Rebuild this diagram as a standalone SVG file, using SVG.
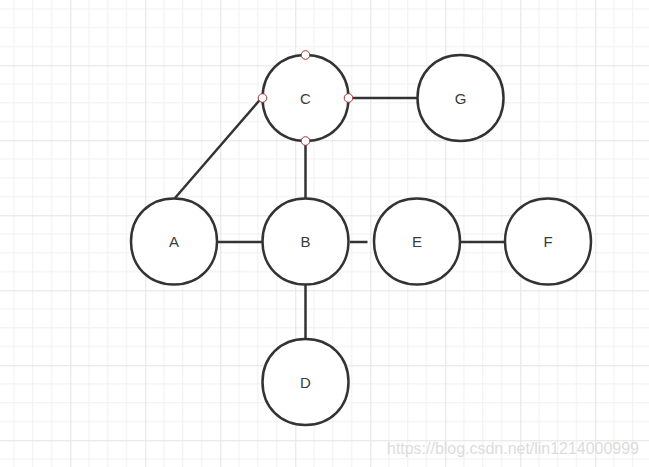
<svg xmlns="http://www.w3.org/2000/svg" xmlns:xlink="http://www.w3.org/1999/xlink" width="649" height="467" viewBox="0 0 649 467">
<defs>
<pattern id="grid" patternUnits="userSpaceOnUse" x="-4.7" y="-9.7" width="75" height="75">
<path d="M18.75 0V75M37.5 0V75M56.25 0V75M0 18.75H75M0 37.5H75M0 56.25H75" stroke="#f0f0f0" stroke-width="1" fill="none"/>
<path d="M0.5 0V75M0 0.5H75" stroke="#e3e3e3" stroke-width="1" fill="none"/>
</pattern>
<path id="blob" d="M43 0C43 25 25 43 0 43C-25 43 -43 25 -43 0C-43 -25 -25 -43 0 -43C25 -43 43 -25 43 0Z"/>
<style>
.node{fill:#fff;stroke:#333;stroke-width:2.5}
.lbl{font-family:"Liberation Sans",Arial,sans-serif;font-size:15px;fill:#3a3a3a;text-anchor:middle;dominant-baseline:central}
.edge{stroke:#333;stroke-width:2.5;fill:none}
.handle{fill:#fff;stroke:#a33;stroke-width:1}
</style>
</defs>
<rect width="649" height="467" fill="#fff"/>
<rect width="649" height="467" fill="url(#grid)"/>
<g id="connectors">
<line class="edge" x1="261.5" y1="98" x2="175" y2="198"/>
<line class="edge" x1="349" y1="98" x2="417" y2="98"/>
<line class="edge" x1="305.5" y1="142" x2="305.5" y2="198"/>
<line class="edge" x1="218" y1="242" x2="262" y2="242"/>
<line class="edge" x1="350" y1="242" x2="367.5" y2="242"/>
<line class="edge" x1="460" y1="242" x2="505" y2="242"/>
<line class="edge" x1="305.5" y1="285" x2="305.5" y2="339"/>
</g>
<g id="node-C">
<use class="node" xlink:href="#blob" href="#blob" x="305.5" y="98"/>
<text class="lbl" x="305.5" y="98">C</text>
<circle class="handle" cx="305.5" cy="55" r="4.3"/>
<circle class="handle" cx="262.5" cy="98" r="4.3"/>
<circle class="handle" cx="348.5" cy="98" r="4.3"/>
<circle class="handle" cx="305.5" cy="141" r="4.3"/>
</g>
<g id="node-G">
<use class="node" xlink:href="#blob" href="#blob" x="460.5" y="98"/>
<text class="lbl" x="460.5" y="98">G</text>
</g>
<g id="node-A">
<use class="node" xlink:href="#blob" href="#blob" x="174" y="241.5"/>
<text class="lbl" x="174" y="241.5">A</text>
</g>
<g id="node-B">
<use class="node" xlink:href="#blob" href="#blob" x="305.5" y="241.5"/>
<text class="lbl" x="305.5" y="241.5">B</text>
</g>
<g id="node-E">
<use class="node" xlink:href="#blob" href="#blob" x="417" y="241.5"/>
<text class="lbl" x="417" y="241.5">E</text>
</g>
<g id="node-F">
<use class="node" xlink:href="#blob" href="#blob" x="548" y="241.5"/>
<text class="lbl" x="548" y="241.5">F</text>
</g>
<g id="node-D">
<use class="node" xlink:href="#blob" href="#blob" x="305.5" y="382"/>
<text class="lbl" x="305.5" y="382">D</text>
</g>
<text x="387" y="454" font-family="'Liberation Sans',Arial,sans-serif" font-size="16" fill="#dcdcdc" textLength="252" lengthAdjust="spacingAndGlyphs">https://blog.csdn.net/lin1214000999</text>
</svg>
